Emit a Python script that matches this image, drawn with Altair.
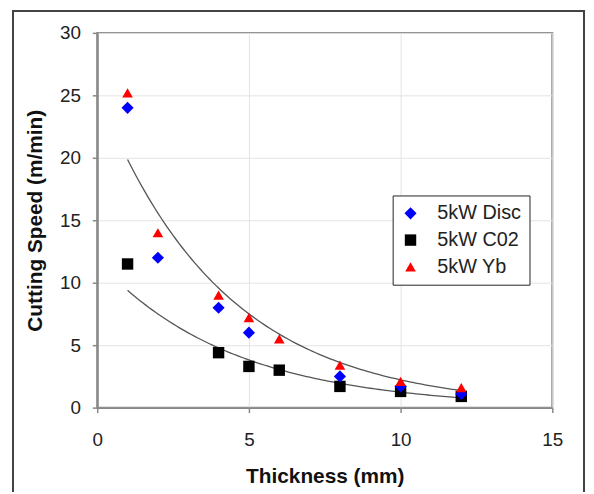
import altair as alt
import numpy as np
import pandas as pd

# ---- data ----
series_names = ["5kW Disc", "5kW C02", "5kW Yb"]
thickness_disc = [1, 2, 4, 5, 8, 10, 12]
speed_disc = [24.0, 12.0, 8.0, 6.0, 2.5, 1.7, 1.1]
thickness_co2 = [1, 4, 5, 6, 8, 10, 12]
speed_co2 = [11.5, 4.4, 3.3, 3.0, 1.7, 1.3, 0.9]
thickness_yb = [1, 2, 4, 5, 6, 8, 10, 12]
speed_yb = [25.2, 14.0, 9.0, 7.2, 5.5, 3.4, 2.1, 1.6]
x_ticks = [0, 5, 10, 15]
y_ticks = [0, 5, 10, 15, 20, 25, 30]

rows = []
for name, xs, ys in [(series_names[0], thickness_disc, speed_disc),
                     (series_names[1], thickness_co2, speed_co2),
                     (series_names[2], thickness_yb, speed_yb)]:
    for x, y in zip(xs, ys):
        rows.append({"series": name, "thickness": x, "speed": y})
df = pd.DataFrame(rows)

# Excel-style exponential trendlines (least squares on log y) for C02 and Yb
def exp_fit(xs, ys):
    b, lna = np.polyfit(np.array(xs, float), np.log(np.array(ys, float)), 1)
    return float(np.exp(lna)), float(b)

fits = [exp_fit(thickness_co2, speed_co2), exp_fit(thickness_yb, speed_yb)]

W, H = 459, 378
xscale = alt.Scale(domain=[0, 15], nice=False)
yscale = alt.Scale(domain=[0, 30], nice=False)

frame = alt.Chart(df).mark_rect(fillOpacity=0, stroke="#444", strokeWidth=1.2).encode(
    x=alt.value(-85), x2=alt.value(491), y=alt.value(-22), y2=alt.value(480)
)

points = alt.Chart(df).mark_point(filled=True, opacity=1).encode(
    x=alt.X("thickness:Q", scale=xscale,
            axis=alt.Axis(values=x_ticks, title="Thickness (mm)")),
    y=alt.Y("speed:Q", scale=yscale,
            axis=alt.Axis(values=y_ticks, title="Cutting Speed (m/min)")),
    color=alt.Color("series:N",
                    scale=alt.Scale(domain=series_names, range=["#0000ff", "#000000", "#ff0000"]),
                    legend=alt.Legend(title=None, orient="none", legendX=298, legendY=164,
                                      strokeColor="#222", fillColor="white", padding=8,
                                      labelFontSize=20, labelFont="Liberation Sans",
                                      labelColor="#222", symbolSize=100, labelOffset=17,
                                      rowPadding=7, symbolStrokeWidth=0)),
    shape=alt.Shape("series:N",
                    scale=alt.Scale(domain=series_names, range=["diamond", "square", "triangle-up"])),
    size=alt.Size("series:N",
                  scale=alt.Scale(domain=series_names, range=[150, 115, 200]), legend=None),
    order=alt.Order("series:N"),
)

lines = []
for a, b in fits:
    lines.append(
        alt.Chart(alt.sequence(1, 12.01, 0.1, as_="thickness"))
        .transform_calculate(speed=f"{a}*exp({b}*datum.thickness)")
        .mark_line(color="#555", strokeWidth=1.3)
        .encode(x=alt.X("thickness:Q", scale=xscale), y=alt.Y("speed:Q", scale=yscale))
    )

chart = alt.layer(frame, *lines, points).properties(
    width=W, height=H,
    autosize=alt.AutoSizeParams(type="none"),
    padding={"left": 90, "top": 23, "right": 34, "bottom": 83},
).configure_view(
    stroke="#888", strokeWidth=2
).configure_axis(
    labelFont="Liberation Sans", labelFontSize=19, labelColor="#222", labelFlush=False,
    titleFont="Liberation Sans", titleFontSize=21, titleFontWeight="bold", titleColor="#111",
    domainColor="#888", domainWidth=2, tickColor="#888", tickSize=5, tickWidth=1.5,
    gridColor="#e3e3e3", gridWidth=1,
).configure_axisY(
    labelPadding=12, titlePadding=14
).configure_axisX(
    labelPadding=18, titlePadding=17
)

chart.save("out.html", embed_options={"renderer": "svg", "actions": False})
